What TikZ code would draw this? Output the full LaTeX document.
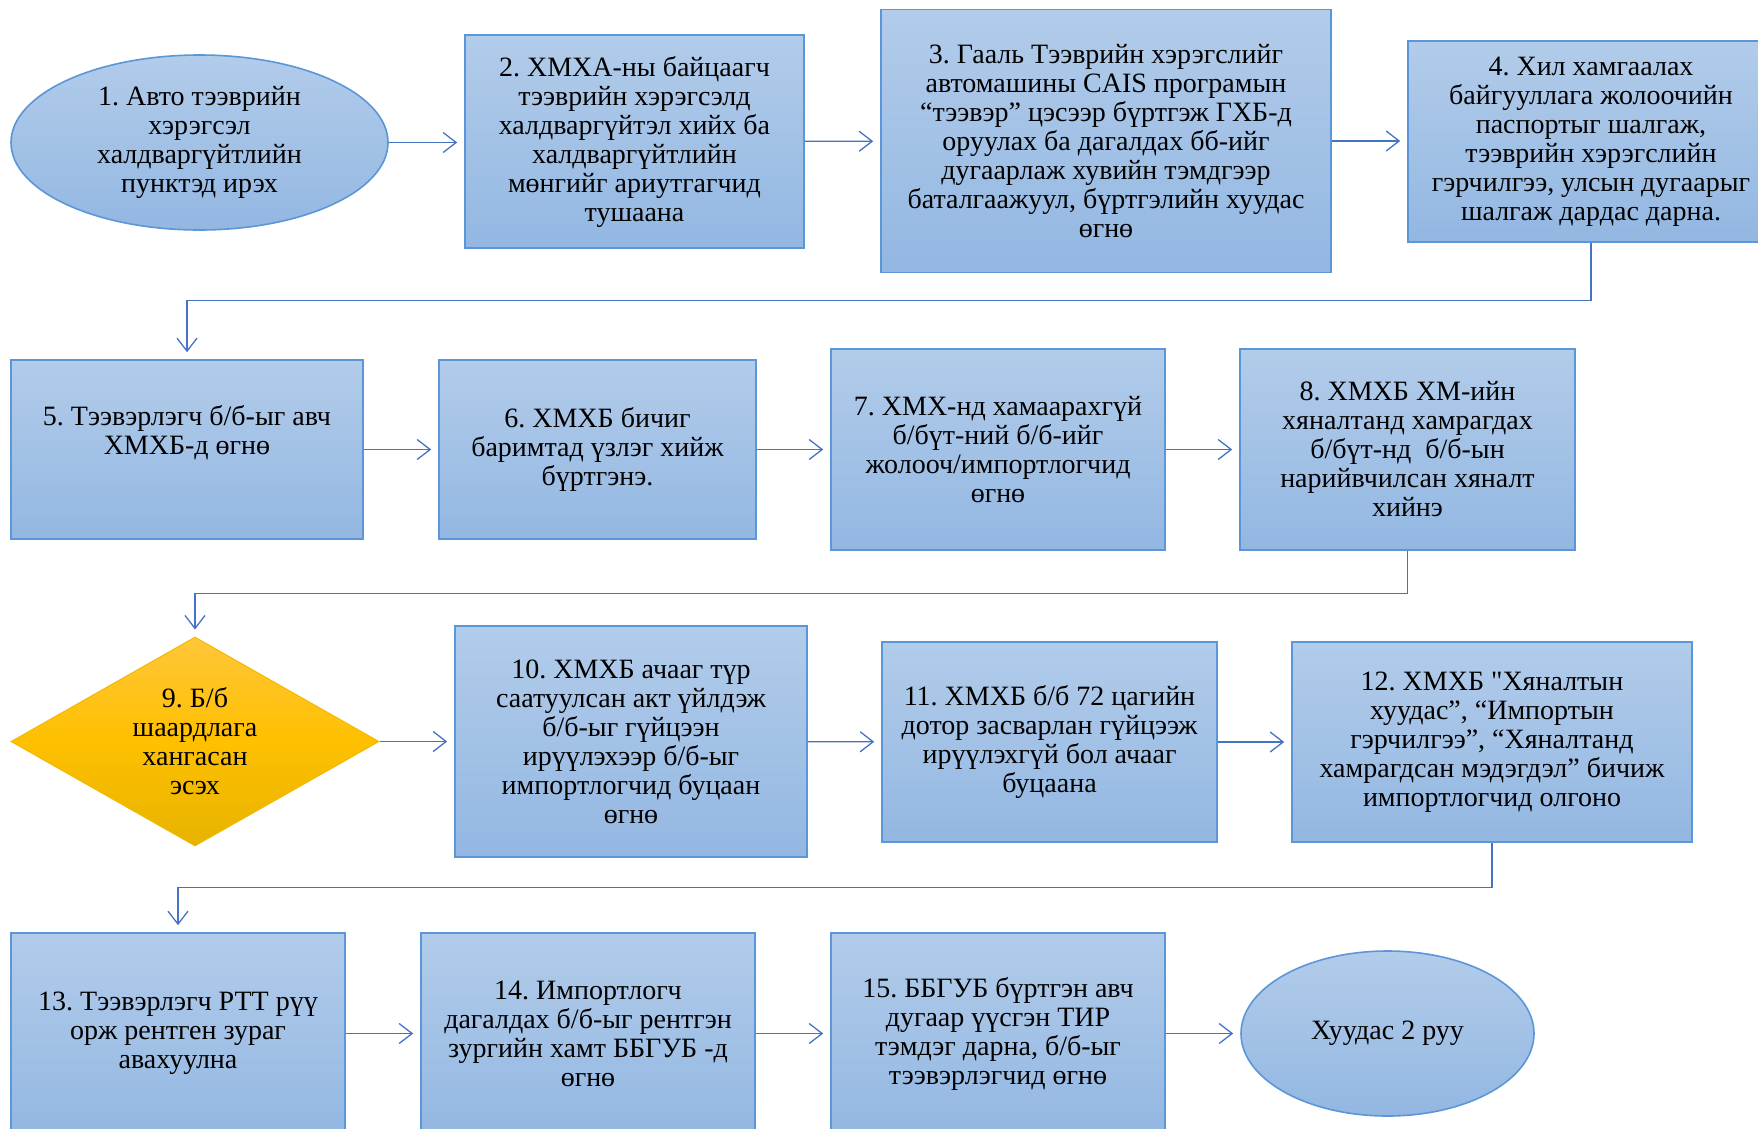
\documentclass[tikz,border=0pt]{standalone}
\usepackage{fontspec}
\setmainfont{Liberation Serif}
\newfontfamily\tnr{Liberation Serif}
\usetikzlibrary{shapes.geometric,arrows.meta,calc}
\definecolor{btop}{HTML}{B2CCEA}
\definecolor{bbot}{HTML}{93B7E2}
\definecolor{bdraw}{HTML}{5B96D8}
\definecolor{ytop}{HTML}{FFC63A}
\definecolor{ymid}{HTML}{FFC000}
\definecolor{ybot}{HTML}{E6B300}
\definecolor{ydraw}{HTML}{F2BA00}
\definecolor{arrc}{HTML}{4472C4}
\tikzset{
  txt/.style={font=\tnr\fontsize{28}{29}\selectfont\frenchspacing, align=center, inner sep=0pt},
  blue/.style={txt, top color=btop, bottom color=bbot, draw=bdraw, line width=1.6pt},
  stepbox/.style 2 args={blue, rectangle, minimum width=#1, minimum height=#2},
  oval/.style 2 args={blue, ellipse, minimum width=#1, minimum height=#2},
  decision/.style={txt, diamond, top color=ytop, bottom color=ybot, middle color=ymid,
    draw=ydraw, line width=1pt, shape aspect=1.76, minimum width=368pt, minimum height=209pt},
  conn/.style={draw=arrc, line width=1.3pt, -{Straight Barb[length=13pt,width=20pt,line width=1.3pt]}, shorten >=7pt}
}
\begin{document}
\begin{tikzpicture}[x=1pt,y=-1pt]
\useasboundingbox (0,0) rectangle (1758,1128);
% row 1
\node[oval={377pt}{175pt}] (n1) at (199.5,142.5) {1. Авто тээврийн\\хэрэгсэл\\халдваргүйтлийн\\пунктэд ирэх};
\node[stepbox={339pt}{213pt}] (n2) at (634.5,141.5) {2. ХМХА-ны байцаагч\\тээврийн хэрэгсэлд\\халдваргүйтэл хийх ба\\халдваргүйтлийн\\мөнгийг ариутгагчид\\тушаана};
\node[stepbox={450pt}{263pt}] (n3) at (1106,141) {3. Гааль Тээврийн хэрэгслийг\\автомашины CAIS програмын\\“тээвэр” цэсээр бүртгэж ГХБ-д\\оруулах ба дагалдах бб-ийг\\дугаарлаж хувийн тэмдгээр\\баталгаажуул, бүртгэлийн хуудас\\өгнө};
\node[stepbox={366pt}{201pt}] (n4) at (1591,141.5) {4. Хил хамгаалах\\байгууллага жолоочийн\\паспортыг шалгаж,\\тээврийн хэрэгслийн\\гэрчилгээ, улсын дугаарыг\\шалгаж дардас дарна.};
% row 2
\node[stepbox={352pt}{179pt}] (n5) at (187,449.5) {5. Тээвэрлэгч б/б-ыг авч\\ХМХБ-д өгнө\\[11pt]\mbox{}};
\node[stepbox={317pt}{179pt}] (n6) at (597.5,449.5) {6. ХМХБ бичиг\\баримтад үзлэг хийж\\бүртгэнэ.};
\node[stepbox={334pt}{201pt}] (n7) at (998,449.5) {7. ХМХ-нд хамаарахгүй\\б/бүт-ний б/б-ийг\\жолооч/импортлогчид\\өгнө};
\node[stepbox={335pt}{201pt}] (n8) at (1407.5,449.5) {8. ХМХБ ХМ-ийн\\хяналтанд хамрагдах\\б/бүт-нд~~б/б-ын\\нарийвчилсан хяналт\\хийнэ};
% row 3
\node[decision] (n9) at (195,741.5) {9. Б/б\\шаардлага\\хангасан\\эсэх};
\node[stepbox={352pt}{231pt}] (n10) at (631,741.5) {10. ХМХБ ачааг түр\\саатуулсан акт үйлдэж\\б/б-ыг гүйцээн\\ирүүлэхээр б/б-ыг\\импортлогчид буцаан\\өгнө};
\node[stepbox={335pt}{200pt}] (n11) at (1049.5,742) {11. ХМХБ б/б 72 цагийн\\дотор засварлан гүйцээж\\ирүүлэхгүй бол ачааг\\буцаана};
\node[stepbox={400pt}{200pt}] (n12) at (1492,742) {12. ХМХБ \symbol{34}Хяналтын\\хуудас”, “Импортын\\гэрчилгээ”, “Хяналтанд\\хамрагдсан мэдэгдэл” бичиж\\импортлогчид олгоно};
% row 4
\node[stepbox={334pt}{201pt}] (n13) at (178,1033.5) {13. Тээвэрлэгч РТТ рүү\\орж рентген зураг\\авахуулна};
\node[stepbox={334pt}{201pt}] (n14) at (588,1033.5) {14. Импортлогч\\дагалдах б/б-ыг рентгэн\\зургийн хамт ББГУБ -д\\өгнө};
\node[stepbox={334pt}{201pt}] (n15) at (998,1033.5) {15. ББГУБ бүртгэн авч\\дугаар үүсгэн ТИР\\тэмдэг дарна, б/б-ыг\\тээвэрлэгчид өгнө};
\node[oval={293pt}{165pt}] (n16) at (1387.5,1033.5) {Хуудас 2 руу};
% connectors
\draw[conn] (n1.east) -- (n1.east -| n2.west);
\draw[conn] (n2) -- (n3);
\draw[conn] (n3.east) -- (n3.east -| n4.west);
\draw[conn] (n4.south) -- ++(0,58) -| (n5.north);
\draw[conn] (n5) -- (n6);
\draw[conn] (n6) -- (n7);
\draw[conn] (n7) -- (n8);
\draw[conn] (n8.south) -- ++(0,43) -| (n9.north);
\draw[conn] (n9) -- (n10);
\draw[conn] (n10) -- (n11);
\draw[conn] (n11) -- (n12);
\draw[conn] (n12.south) -- ++(0,45) -| (n13.north);
\draw[conn] (n13.east) -- (n13.east -| n14.west);
\draw[conn] (n14) -- (n15);
\draw[conn] (n15) -- (n16);
\end{tikzpicture}
\end{document}
